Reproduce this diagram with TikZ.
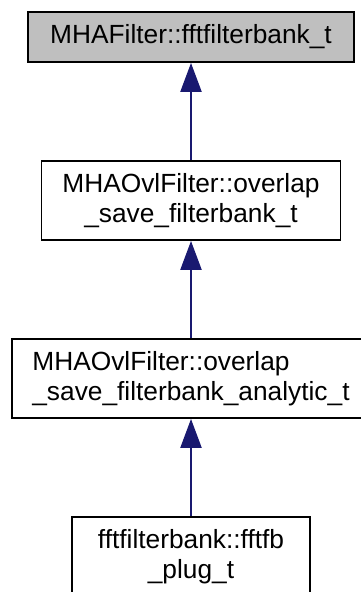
\documentclass[tikz,border=0pt]{standalone}
\usepackage{fontspec}
\setmainfont{Liberation Sans}
\usetikzlibrary{arrows.meta}
\definecolor{edgeblue}{HTML}{191970}
\definecolor{basegray}{HTML}{BFBFBF}

\begin{document}
\begin{tikzpicture}[x=1pt, y=-1pt,
    every node/.style={font=\fontsize{26.3}{30}\selectfont},
    cls/.style={rectangle, draw=black, line width=1.8pt, fill=white, inner sep=0pt, align=center, minimum height=79pt},
    basecls/.style={cls, fill=basegray, minimum height=50pt},
    inherit/.style={-{Triangle[length=29pt, width=21pt]}, draw=edgeblue, line width=2.2pt}]

  \clip (0,0) rectangle (361,592);

  \node[basecls, minimum width=326pt] (fftfb) at (191,37) {MHAFilter::fftfilterbank\_t};
  \node[cls, minimum width=299pt] (ovlsave) at (191,200.5) {MHAOvlFilter::overlap\\\_save\_filterbank\_t};
  \node[cls, minimum width=358pt, align=left] (ovlana) at (191,378.5) {MHAOvlFilter::overlap\\\_save\_filterbank\_analytic\_t};
  \node[cls, minimum width=238pt] (plug) at (191,556.5) {fftfilterbank::fftfb\\\_plug\_t};

  \draw[inherit] (ovlsave.north) -- (fftfb.south);
  \draw[inherit] (ovlana.north) -- (ovlsave.south);
  \draw[inherit] (plug.north) -- (ovlana.south);
\end{tikzpicture}
\end{document}
